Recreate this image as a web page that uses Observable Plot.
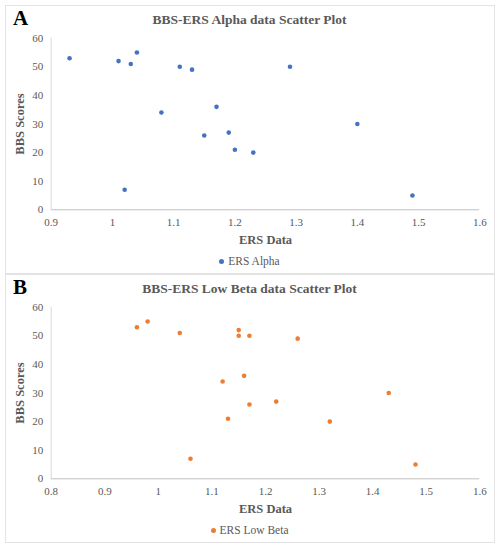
<!DOCTYPE html>
<html>
<head>
<meta charset="utf-8">
<script src="https://cdn.jsdelivr.net/npm/d3@7"></script>
<script src="https://cdn.jsdelivr.net/npm/@observablehq/plot@0.6"></script>
<style>
  body { margin: 0; background: #fff; width: 499px; height: 550px; position: relative; overflow: hidden; font-family: 'Liberation Serif', 'Times New Roman', serif; }
  .frame { position: absolute; border: 1px solid #e3e3e3; box-sizing: border-box; }
  .letter { position: absolute; font-family: 'Liberation Serif', serif; font-weight: bold; font-size: 21px; color: #000; line-height: 1; }
  .title { position: absolute; left: 0; width: 499px; text-align: center; font-family: 'Liberation Serif', serif; font-weight: bold; font-size: 13.5px; color: #595959; line-height: 1; }
  .legend { position: absolute; left: 0; width: 499px; text-align: center; font-family: 'Liberation Serif', serif; font-size: 11.5px; color: #595959; line-height: 1; }
  .legend .sw { display: inline-block; width: 5px; height: 5px; border-radius: 50%; margin-right: 4px; vertical-align: middle; position: relative; top: -1px; }
  .plot { position: absolute; left: 0; }
  svg.plot, svg.plot text { font-family: 'Liberation Serif', 'Times New Roman', serif !important; }
</style>
</head>
<body>
<script>
// ---- Data ----
const alphaERS   = [0.93, 1.01, 1.03, 1.04, 1.11, 1.13, 1.29, 1.08, 1.17, 1.15, 1.19, 1.20, 1.23, 1.02, 1.40, 1.49];
const alphaBBS   = [53,   52,   51,   55,   50,   49,   50,   34,   36,   26,   27,   21,   20,   7,    30,   5];
const betaERS    = [0.96, 0.98, 1.04, 1.15, 1.15, 1.17, 1.26, 1.12, 1.16, 1.17, 1.22, 1.13, 1.32, 1.06, 1.43, 1.48];
const betaBBS    = [53,   55,   51,   52,   50,   50,   49,   34,   36,   26,   27,   21,   20,   7,    30,   5];
const alphaXTicks = [0.9, 1, 1.1, 1.2, 1.3, 1.4, 1.5, 1.6];
const betaXTicks  = [0.8, 0.9, 1, 1.1, 1.2, 1.3, 1.4, 1.5, 1.6];
const yTicks      = [0, 10, 20, 30, 40, 50, 60];
const panels = [
  {letter: "A", title: "BBS-ERS Alpha data Scatter Plot", legend: "ERS Alpha", color: "#4472C4",
   xs: alphaERS, ys: alphaBBS, xDomain: [0.9, 1.6], xTicks: alphaXTicks, top: 0},
  {letter: "B", title: "BBS-ERS Low Beta data Scatter Plot", legend: "ERS Low Beta", color: "#ED7D31",
   xs: betaERS, ys: betaBBS, xDomain: [0.8, 1.6], xTicks: betaXTicks, top: 269}
];

const fmt = d => String(d);

panels.forEach(p => {
  const frame = document.createElement("div");
  frame.className = "frame";
  Object.assign(frame.style, {left: "5px", top: (p.top + 5) + "px", width: "490px", height: "269px"});
  document.body.appendChild(frame);

  const letter = document.createElement("div");
  letter.className = "letter";
  letter.textContent = p.letter;
  Object.assign(letter.style, {left: "13px", top: (p.top + 8) + "px"});
  document.body.appendChild(letter);

  const title = document.createElement("div");
  title.className = "title";
  title.textContent = p.title;
  title.style.top = (p.top + 13) + "px";
  document.body.appendChild(title);

  const data = p.xs.map((x, i) => ({x, y: p.ys[i]}));
  const chart = Plot.plot({
    width: 499,
    height: 220,
    marginLeft: 50.7,
    marginRight: 19.7,
    marginTop: 7.7,
    marginBottom: 40.7,
    style: "font-family: 'Liberation Serif', 'Times New Roman', serif; font-size: 11px; color: #595959; background: transparent;",
    x: {domain: p.xDomain, ticks: p.xTicks, tickFormat: fmt, tickSize: 0, tickPadding: 8,
        label: "ERS Data", labelAnchor: "center", labelArrow: "none", labelOffset: 34},
    y: {domain: [0, 60], ticks: yTicks, tickFormat: fmt, tickSize: 0, tickPadding: 8,
        label: "BBS Scores", labelAnchor: "center", labelArrow: "none", labelOffset: 36},
    marks: [
      Plot.ruleX([p.xDomain[0]], {stroke: "#d9d9d9", strokeWidth: 1}),
      Plot.ruleY([0], {stroke: "#bfbfbf", strokeWidth: 1}),
      Plot.dot(data, {x: "x", y: "y", r: 2.3, fill: p.color, stroke: "none"})
    ]
  });
  chart.classList.add("plot");
  chart.style.top = (p.top + 30) + "px";
  chart.querySelectorAll("[aria-label='x-axis label'] text, [aria-label='y-axis label'] text").forEach(t => {
    t.style.fontWeight = "bold"; t.style.fontSize = "12.5px";
  });
  document.body.appendChild(chart);

  const legend = document.createElement("div");
  legend.className = "legend";
  legend.innerHTML = `<span class="sw" style="background:${p.color}"></span>${p.legend}`;
  legend.style.top = (p.top + 256) + "px";
  document.body.appendChild(legend);
});
</script>
</body>
</html>
